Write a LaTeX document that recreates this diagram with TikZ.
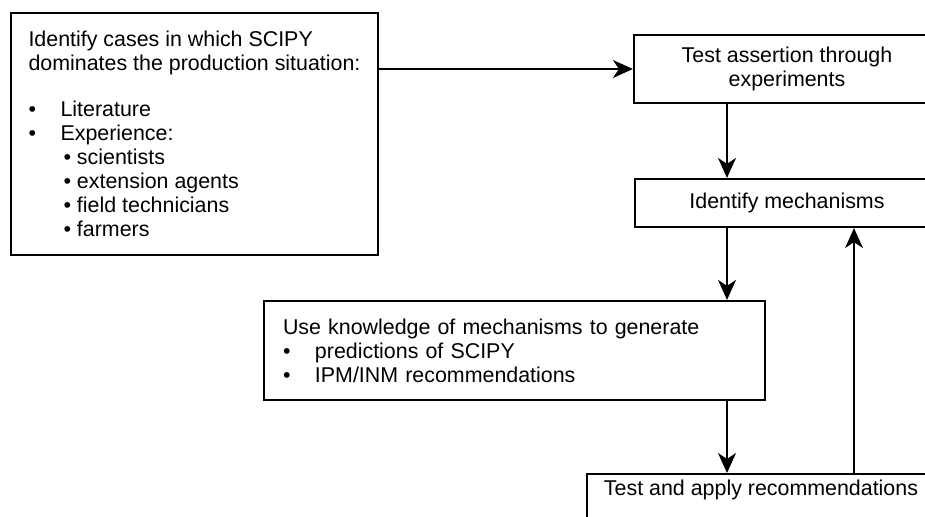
\documentclass[tikz,border=0pt]{standalone}
\usepackage{fontspec}
\setmainfont{Liberation Sans}
\usetikzlibrary{arrows.meta}

\tikzset{
	box/.style={draw, line width=2.2pt, inner sep=0pt, font=\fontsize{21.4}{24}\selectfont},
	flow/.style={-{Stealth[length=20pt, width=18pt, inset=6pt]}, line width=1.4pt},
}
\newcommand{\bul}{\makebox[32pt][l]{\textbullet}}
\newcommand{\subbul}{\hspace*{35pt}\textbullet\ }

\begin{document}
\begin{tikzpicture}[x=1pt, y=-1pt]
		%%%%% START %%%%%
		\useasboundingbox (0, 0) rectangle (925, 516);
		\clip (0, 0) rectangle (925, 516);
		
		\node[box, align=left, minimum width=367, minimum height=242] (cases) at (194.5, 134)
			{Identify cases in which SCIPY\\
			 dominates the production situation:\\[22pt]
			 \bul Literature\\
			 \bul Experience:\\
			 \subbul scientists\\
			 \subbul extension agents\\
			 \subbul field technicians\\
			 \subbul farmers};
		
		\node[box, align=center, minimum width=306, minimum height=68] (test) at (787, 69)
			{Test assertion through\\experiments};
		\node[box, minimum width=304, minimum height=48] (ident) at (787, 203) {Identify mechanisms};
		
		\node[box, align=left, text width=463, inner xsep=19, minimum height=99] (use) at (514.5, 350.5)
			{Use knowledge of mechanisms to generate\\
			 \bul predictions of SCIPY\\
			 \bul IPM/INM recommendations};
		
		\node[box, anchor=north, minimum width=348, inner ysep=6, text depth=40] (apply) at (761, 473)
			{Test and apply recommendations};
		
		\coordinate (dn) at (727, 0);
		\coordinate (upx) at (854, 0);
		
		\draw[flow] (cases.east |- test.west) -- (test.west);
		\draw[flow] (test.south -| dn) -- (ident.north -| dn);
		\draw[flow] (ident.south -| dn) -- (use.north -| dn);
		\draw[flow] (use.south -| dn) -- (apply.north -| dn);
		\draw[flow] (apply.north -| upx) -- (ident.south -| upx);
		
		%%%%% END %%%%%
\end{tikzpicture}
\end{document}
